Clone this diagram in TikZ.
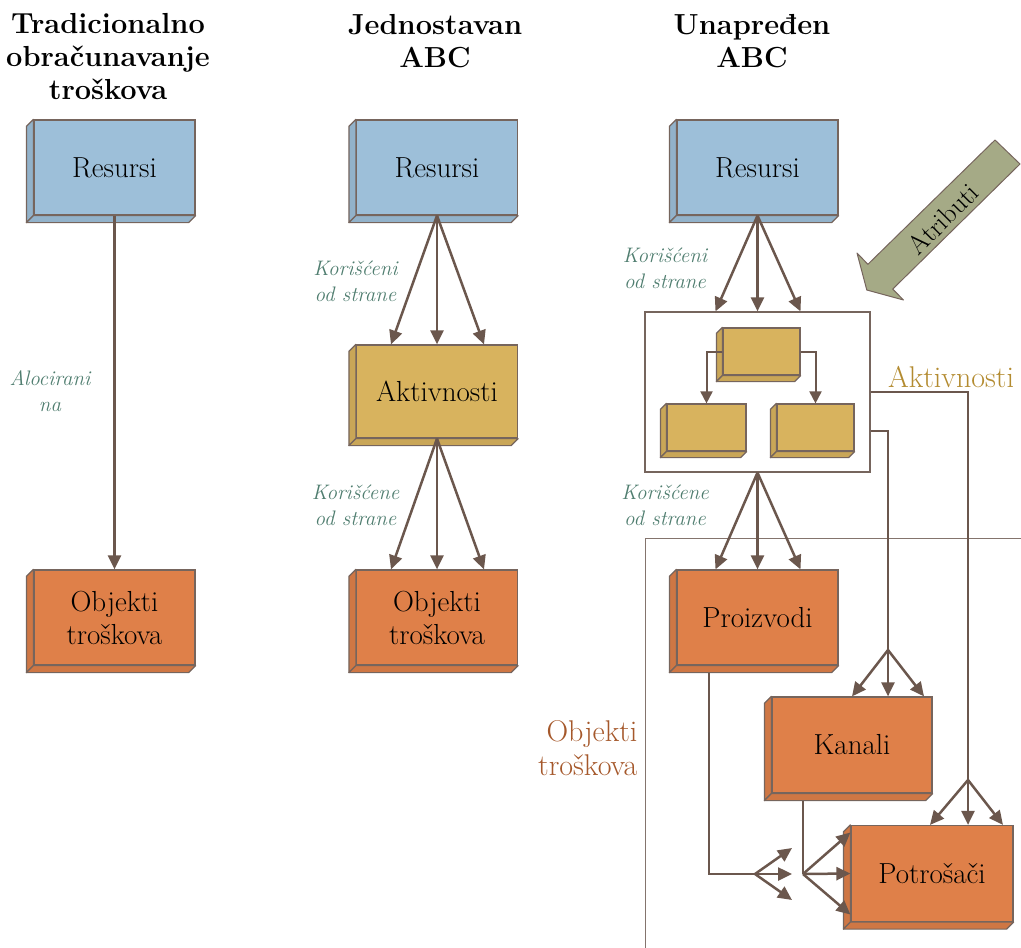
\documentclass[tikz,border=0pt]{standalone}
\usetikzlibrary{arrows.meta,calc,positioning}
\definecolor{plavaboja}{HTML}{9DBFD9}
\definecolor{zlatnaboja}{HTML}{D8B35E}
\definecolor{narandzboja}{HTML}{DF8049}
\definecolor{linija}{HTML}{6B574D}
\definecolor{rubboja}{HTML}{76655D}
\definecolor{oznakaboja}{HTML}{4F7D6F}
\definecolor{aktnatpis}{HTML}{B38B30}
\definecolor{objnatpis}{HTML}{A5582B}
\definecolor{atributboja}{HTML}{A5AA86}
\tikzset{
  kutija/.style={draw=rubboja, line width=1.2pt, inner sep=2pt, align=center,
    font=\fontsize{29}{33}\selectfont},
  strana/.style={draw=rubboja, line width=1.2pt, line join=round},
  strelica/.style={draw=linija, line width=2.5pt, -{Triangle[length=14pt,width=13pt]}},
  malastrelica/.style={draw=linija, line width=2pt, -{Triangle[length=12pt,width=12pt]}},
  veza/.style={draw=linija, line width=2.5pt},
  naslov/.style={font=\bfseries\fontsize{29}{33}\selectfont, align=center},
  oznaka/.style={font=\itshape\fontsize{21}{26}\selectfont, text=oznakaboja, align=center},
  natpis/.style={font=\fontsize{30}{34}\selectfont},
}
\begin{document}
\begin{tikzpicture}[x=1pt,y=-1pt]
  \newcommand\kutija[7][7]{
    \node[kutija, fill=#6, minimum width=#4, minimum height=#5] (#2) at #3 {#7};
    \filldraw[strana, fill=#6!93!black] (#2.north west) -- ++(-#1,#1)
      -- ($(#2.south west)+(-#1,#1)$) -- (#2.south west) -- cycle;
    \filldraw[strana, fill=#6!93!black] (#2.south west) -- ++(-#1,#1)
      -- ($(#2.south east)+(-#1,#1)$) -- (#2.south east) -- cycle;}
  \useasboundingbox (0,0) rectangle (1021,948);

  % naslovi
  \node[naslov] (nas1) at (108,57) {Tradicionalno\\obračunavanje\\troškova};
  \node[naslov] (nas2) at (435,41) {Jednostavan\\ABC};
  \node[naslov] (nas3) at (752,41) {Unapređen\\ABC};

  % tradicionalno
  \kutija{res1}{(114.5,167.5)}{161}{95}{plavaboja}{Resursi}
  \kutija{obj1}{(114.5,617.5)}{161}{95}{narandzboja}{Objekti\\troškova}
  \draw[strelica] (res1.south) -- (obj1.north);
  \node[oznaka] (alo) at (50,391) {Alocirani\\na};

  % jednostavan ABC
  \kutija{res2}{(437,167.5)}{161}{95}{plavaboja}{Resursi}
  \kutija{akt2}{(437,391.5)}{161}{93}{zlatnaboja}{Aktivnosti}
  \kutija{obj2}{(437,617.5)}{161}{95}{narandzboja}{Objekti\\troškova}
  \foreach \dx in {-46,0,47}{
    \draw[strelica] (res2.south) -- ($(akt2.north)+(\dx,0)$);
    \draw[strelica] (akt2.south) -- ($(obj2.north)+(\dx,0)$);
  }
  \node[oznaka] (kor2) at (355.5,281) {Korišćeni\\od strane};
  \node[oznaka] (kore2) at (355.5,505) {Korišćene\\od strane};

  % unapredjen ABC
  \draw[rubboja!90!white, line width=1pt] (645,948) -- (645,538) -- (1021,538);
  \kutija{res3}{(757.5,167.5)}{161}{95}{plavaboja}{Resursi}
  \node[draw=rubboja, line width=1.2pt, fill=white, minimum width=225,
    minimum height=160] (aktbox) at (757.5,392) {};
  \kutija[6]{akta}{(761.5,351.5)}{77}{47}{zlatnaboja}{}
  \kutija[6]{aktb}{(706.5,427.5)}{79}{47}{zlatnaboja}{}
  \kutija[6]{aktc}{(815.5,427.5)}{77}{47}{zlatnaboja}{}
  \draw[malastrelica] (akta.west) -| (aktb.north);
  \draw[malastrelica] (akta.east) -| (aktc.north);

  \kutija{proizvodi}{(757.5,617.5)}{161}{95}{narandzboja}{Proizvodi}
  \kutija{kanali}{(852,745)}{160}{96}{narandzboja}{Kanali}
  \kutija{potrosaci}{(932,873.5)}{162}{96}{narandzboja}{Potrošači}

  \foreach \dx in {-42,0,43}{
    \draw[strelica] (res3.south) -- ($(aktbox.north)+(\dx,0)$);
    \draw[strelica] (aktbox.south) -- ($(proizvodi.north)+(\dx,0)$);
  }
  \node[oznaka] (kor3) at (665,268) {Korišćeni\\od strane};
  \node[oznaka] (kore3) at (665,505) {Korišćene\\od strane};

  % aktivnosti prema kanalima i potrosacima
  \coordinate (kfan) at (888,650);
  \coordinate (pfan) at (968,780);
  \draw[veza] (aktbox.east) -| (pfan);
  \draw[veza] ($(aktbox.east)+(0,39)$) -| (kfan);
  \foreach \dx in {0,36,72}
    \draw[strelica] (kfan) -- ($(kanali.north)+(\dx,0)$);
  \foreach \dx in {-2,36,71}
    \draw[strelica] (pfan) -- ($(potrosaci.north)+(\dx,0)$);

  % proizvodi i kanali prema potrosacima
  \coordinate (pzfan) at (755,874);
  \coordinate (kbfan) at (803,874);
  \draw[veza] ($(proizvodi.south)+(-48.5,7)$) |- (pzfan);
  \foreach \dy in {-26,0,26}
    \draw[strelica] (pzfan) -- ($(pzfan)+(37,\dy)$);
  \draw[veza] ($(kanali.south)+(-49,7)$) -- (kbfan);
  \foreach \dy in {-41,0,41}
    \draw[strelica] (kbfan) -- ($(potrosaci.west)+(0,\dy)$);

  \node[natpis, text=aktnatpis] (aktnat) at (951,377) {Aktivnosti};
  \node[natpis, text=objnatpis, align=right, anchor=east]
    (objnat) at (641,748) {Objekti\\troškova};

  % atributi
  \filldraw[draw=rubboja, fill=atributboja, line width=1pt, line join=round]
    (995,140) -- (867.9,264.3) -- (857,253) -- (866.8,290) -- (903.5,300)
    -- (892.7,289.1) -- (1020,164) -- cycle;
  \node[rotate=45, font=\fontsize{27}{30}\selectfont] (atributi) at (943,219) {Atributi};
\end{tikzpicture}
\end{document}
